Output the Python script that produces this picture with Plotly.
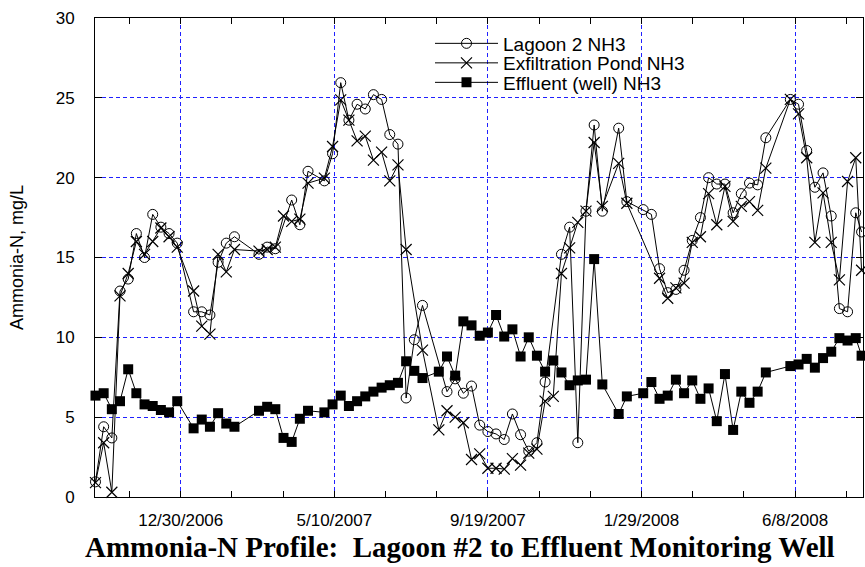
import datetime as dt
import plotly.graph_objects as go

# ---- data ----
dates = [
    "2006-10-18", "2006-10-25", "2006-11-01", "2006-11-08", "2006-11-15", "2006-11-22",
    "2006-11-29", "2006-12-06", "2006-12-13", "2006-12-20", "2006-12-27",
    "2007-01-10", "2007-01-17", "2007-01-24", "2007-01-31", "2007-02-07", "2007-02-14",
    "2007-03-07", "2007-03-14", "2007-03-21", "2007-03-28", "2007-04-04", "2007-04-11",
    "2007-04-18", "2007-05-02", "2007-05-09", "2007-05-16", "2007-05-23", "2007-05-30",
    "2007-06-06", "2007-06-13", "2007-06-20", "2007-06-27", "2007-07-04", "2007-07-11",
    "2007-07-18", "2007-07-25", "2007-08-08", "2007-08-15", "2007-08-22", "2007-08-29",
    "2007-09-05", "2007-09-12", "2007-09-19", "2007-09-26", "2007-10-03", "2007-10-10",
    "2007-10-17", "2007-10-24", "2007-10-31", "2007-11-07", "2007-11-14", "2007-11-21",
    "2007-11-28", "2007-12-05", "2007-12-12", "2007-12-19", "2007-12-26", "2008-01-09",
    "2008-01-16", "2008-01-30", "2008-02-06", "2008-02-13", "2008-02-20", "2008-02-27",
    "2008-03-05", "2008-03-12", "2008-03-19", "2008-03-26", "2008-04-02", "2008-04-09",
    "2008-04-16", "2008-04-23", "2008-04-30", "2008-05-07", "2008-05-14", "2008-06-04",
    "2008-06-11", "2008-06-18", "2008-06-25", "2008-07-02", "2008-07-09", "2008-07-16",
    "2008-07-23", "2008-07-30", "2008-08-04",
]

lagoon2_nh3 = [
    0.95, 4.4, 3.7, 12.9, 13.65, 16.5, 15.0, 17.7, 16.9, 16.5, 15.9,
    11.6, 11.6, 11.4, 14.7, 15.9, 16.3,
    15.2, 15.65, 15.55, None, 18.6, 17.05,
    20.4, 19.8, 21.5, 25.95, 23.6, 24.6,
    24.3, 25.2, 24.9, 22.7, 22.1, 6.2,
    9.85, 12.0, None, 6.6, 7.4, 6.5,
    6.95, 4.5, 4.1, 3.95, 3.6, 5.2,
    3.9, 2.87, 3.4, 7.2, None, 15.2,
    16.9, 3.4, 17.9, 23.3, 17.9, 23.1,
    18.5, 18.0, 17.7, 14.3, 12.8, 13.0,
    14.2, 16.07, 17.5, 20.0, 19.6, 19.6,
    17.8, 19.0, 19.66, 19.55, 22.5, 24.9,
    24.6, 21.7, 19.4, 20.3, 17.6, 11.8,
    11.6, 17.8, 16.6,
]

exfiltration_pond_nh3 = [
    0.9, 3.4, 0.3, 12.6, 14.0, 16.0, 15.2, 16.0, 16.85, 16.3, 15.65,
    12.9, 10.7, 10.2, 15.2, 14.1, 15.5,
    15.4, 15.5, 15.65, 17.6, 17.26, 17.4,
    19.66, 19.97, 21.95, 24.87, 23.6, 22.3,
    22.6, 21.1, 21.6, 19.8, 20.8, 15.5,
    None, 9.2, 4.2, 5.4, 5.0, 4.65,
    2.35, 2.7, 1.8, 1.8, 1.75, 2.4,
    2.0, 2.75, 3.0, 6.0, 6.3, 14.0,
    15.6, 17.2, 17.9, 22.2, 18.2, 20.9,
    18.4, None, None, 13.7, 12.45, 13.1,
    13.4, 15.95, 16.3, 19.0, 17.05, 19.45,
    17.26, 18.2, 18.5, 17.95, 20.6, 24.9,
    24.0, 21.25, 15.95, 19.05, 15.95, 13.6,
    19.76, 21.25, 14.2,
]

effluent_well_nh3 = [
    6.35, 6.5, 5.5, 6.0, 8.0, 6.5, 5.8, 5.7, 5.45, 5.3, 6.0,
    4.3, 4.85, 4.4, 5.25, 4.6, 4.4,
    5.4, 5.65, 5.5, 3.7, 3.45, 4.9,
    5.4, 5.3, 5.8, 6.35, 5.7, 6.0,
    6.3, 6.6, 6.85, 7.0, 7.15, 8.5,
    7.9, 7.45, 7.85, 8.8, 7.6, 11.0,
    10.75, 10.1, 10.3, 11.4, 10.05, 10.5,
    8.8, 10.0, 8.85, 7.85, 8.55, 7.8,
    7.0, 7.3, 7.35, 14.9, 7.05, 5.2,
    6.3, 6.5, 7.2, 6.15, 6.35, 7.35,
    6.5, 7.3, 6.15, 6.8, 4.75, 7.7,
    4.2, 6.6, 5.9, 6.6, 7.8, 8.2,
    8.3, 8.65, 8.1, 8.7, 9.1, 9.95,
    9.8, 9.95, 8.85,
]

series_names = ["Lagoon 2 NH3", "Exfiltration Pond NH3", "Effluent (well) NH3"]

x_tick_labels = ["12/30/2006", "5/10/2007", "9/19/2007", "1/29/2008", "6/8/2008"]
y_tick_values = [0, 5, 10, 15, 20, 25, 30]

y_title = "Ammonia-N, mg/L"
chart_title = "Ammonia-N Profile:  Lagoon #2 to Effluent Monitoring Well"

# ---- axis geometry (major ticks every 131.5 days, minor every third) ----
tick0 = dt.datetime(2006, 12, 30)
major_step = dt.timedelta(days=131.5)
x_tick_values = [tick0 + i * major_step for i in range(len(x_tick_labels))]
x_range = [dt.datetime(2006, 10, 17, 14), dt.datetime(2008, 8, 5, 5)]

FONT = "Arial, Liberation Sans, sans-serif"
GRID = "#2020ff"

fig = go.Figure()

styles = [
    dict(symbol="circle-open", size=10, color="black", line=dict(width=1, color="black")),
    dict(symbol="x-thin-open", size=11, color="black", line=dict(width=1.2, color="black")),
    dict(symbol="square", size=10, color="black", line=dict(width=0, color="black")),
]
values = [lagoon2_nh3, exfiltration_pond_nh3, effluent_well_nh3]
legend_ids = ["legend", "legend2", "legend3"]

for name, vals, mk, lg in zip(series_names, values, styles, legend_ids):
    fig.add_trace(go.Scatter(
        x=dates, y=vals, name=name, mode="lines+markers",
        line=dict(color="black", width=1),
        marker=mk, connectgaps=True, cliponaxis=False, legend=lg,
    ))

# white area behind the legend (hides grid lines there)
fig.add_shape(type="rect", xref="paper", yref="paper",
              x0=(422 - 95) / 768, x1=(705 - 95) / 768,
              y0=(497 - 102) / 479, y1=1.0,
              fillcolor="white", line=dict(width=0), layer="between")

leg_common = dict(xref="paper", yref="paper", xanchor="left", yanchor="middle",
                  bgcolor="rgba(0,0,0,0)", borderwidth=0,
                  font=dict(family=FONT, size=19, color="black"),
                  itemwidth=63, itemsizing="trace")
leg_x = (430 - 95) / 768
rows_y = [43.5, 63, 82.5]
fig.update_layout(
    legend=dict(x=leg_x, y=(497 - rows_y[0]) / 479, **leg_common),
    legend2=dict(x=leg_x, y=(497 - rows_y[1]) / 479, **leg_common),
    legend3=dict(x=leg_x, y=(497 - rows_y[2]) / 479, **leg_common),
)

fig.update_xaxes(
    type="date", range=x_range,
    tickmode="array", tickvals=x_tick_values, ticktext=x_tick_labels,
    ticks="inside", ticklen=6, tickwidth=1, tickcolor="black",
    minor=dict(tick0=tick0, dtick=major_step.total_seconds() * 1000 / 3,
               ticks="inside", ticklen=6, tickwidth=1, tickcolor="black", showgrid=False),
    showline=True, linecolor="black", linewidth=1, mirror="allticks",
    showgrid=True, gridcolor=GRID, gridwidth=1, griddash="4px,3px",
    tickfont=dict(family=FONT, size=17, color="black"),
    ticklabelstandoff=8, zeroline=False,
)
fig.update_yaxes(
    range=[0, 30], tickmode="array", tickvals=y_tick_values,
    ticks="inside", ticklen=7, tickwidth=1, tickcolor="black",
    showline=True, linecolor="black", linewidth=1, mirror="allticks",
    showgrid=True, gridcolor=GRID, gridwidth=1, griddash="4px,3px",
    tickfont=dict(family=FONT, size=17, color="black"),
    ticklabelstandoff=16, zeroline=False,
    title=dict(text=y_title, font=dict(family=FONT, size=18, color="black"), standoff=27),
)

fig.add_annotation(text="<b>" + chart_title + "</b>", xref="paper", yref="paper",
                   x=(460 - 95) / 768, y=-(547 - 497) / 479, xanchor="center", yanchor="middle",
                   showarrow=False,
                   font=dict(family="Times New Roman, Liberation Serif, serif", size=29, color="black"))

fig.update_layout(
    width=865, height=567,
    margin=dict(l=95, r=2, t=18, b=70, autoexpand=False),
    plot_bgcolor="white", paper_bgcolor="white",
    showlegend=True,
)

fig.write_html("out.html", config={"displayModeBar": False},
               post_script="document.body.style.margin='0';")
